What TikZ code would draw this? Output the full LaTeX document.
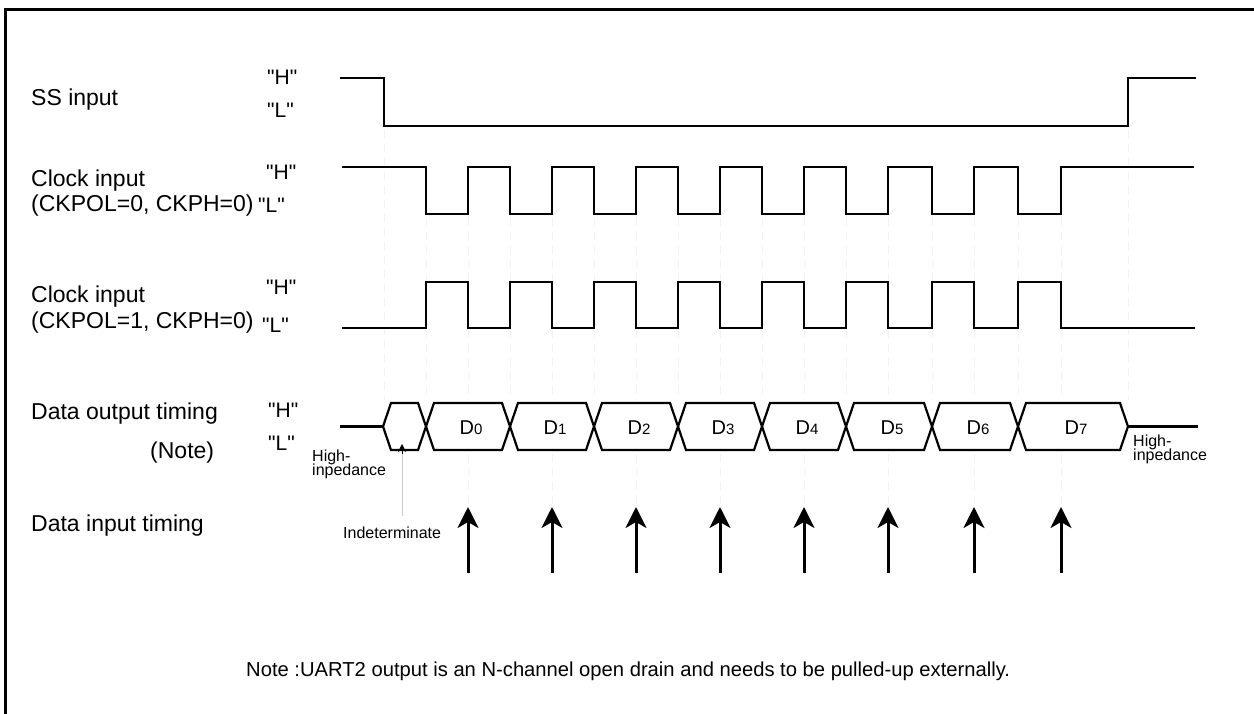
\documentclass[tikz,border=0pt]{standalone}
\usepackage{fontspec}
\setmainfont{Liberation Sans}
\usetikzlibrary{arrows.meta}
\newcommand{\qq}[1]{\textquotedbl #1\textquotedbl}
\begin{document}
\begin{tikzpicture}[x=1pt,y=-1pt,
  lbl/.style={font=\fontsize{23}{27}\selectfont, anchor=base west, inner sep=0pt},
  hl/.style={font=\fontsize{21}{25}\selectfont, anchor=base west, inner sep=0pt},
  small/.style={font=\fontsize{16}{18}\selectfont, anchor=base west, inner sep=0pt},
  dlbl/.style={anchor=base, inner sep=0pt},
  sig/.style={line width=2.2pt, line join=miter},
  guide/.style={black!5, dashed, dash pattern=on 8pt off 6pt, line width=0.8pt},
  samp/.style={line width=3pt, -{Stealth[length=21pt,width=21pt,inset=6pt]}},
  frame/.style={line width=3pt}]
\useasboundingbox (0,0) rectangle (1254,714);
% frame
\draw[frame] (5.5,714) -- (5.5,10) -- (1254,10);

% faint guide lines
\foreach \x in {384,1128} \draw[guide] (\x,130) -- (\x,400);
\foreach \x in {426,468,510,552,594,636,678,720,762,804,846,888,932,974,1018,1061}
  \draw[guide] (\x,218) -- (\x,400);
\foreach \x in {468,552,636,720,804,888,974,1061}
  \draw[guide] (\x,454) -- (\x,506);

% labels left
\node[lbl] (ss) at (31,106) {SS input};
\node[lbl] (ck1) at (31,187) {Clock input};
\node[lbl] (ck1b) at (31,212) {(CKPOL=0, CKPH=0)};
\node[lbl] (ck2) at (31,303) {Clock input};
\node[lbl] (ck2b) at (31,328) {(CKPOL=1, CKPH=0)};
\node[lbl] (dout) at (31,419) {Data output timing};
\node[lbl] (note) at (150,458) {(Note)};
\node[lbl] (din) at (31,531) {Data input timing};

% H/L labels
\node[hl] (ssH) at (267,85) {\qq{H}};
\node[hl] (ssL) at (267,118) {\qq{L}};
\node[hl] (c1H) at (266,180) {\qq{H}};
\node[hl] (c1L) at (258,213) {\qq{L}};
\node[hl] (c2H) at (266,295) {\qq{H}};
\node[hl] (c2L) at (262,332) {\qq{L}};
\node[hl] (dH) at (268,417) {\qq{H}};
\node[hl] (dL) at (268,450) {\qq{L}};

% SS input
\draw[sig] (340,78) -- (384,78) -- (384,126) -- (1128,126) -- (1128,78) -- (1196,78);

% clock 1 (CKPOL=0)
\draw[sig] (342,167) -- (426,167) -- (426,214) -- (468,214) -- (468,167)
  -- (510,167) -- (510,214) -- (552,214) -- (552,167)
  -- (594,167) -- (594,214) -- (636,214) -- (636,167)
  -- (678,167) -- (678,214) -- (720,214) -- (720,167)
  -- (762,167) -- (762,214) -- (804,214) -- (804,167)
  -- (846,167) -- (846,214) -- (888,214) -- (888,167)
  -- (932,167) -- (932,214) -- (974,214) -- (974,167)
  -- (1018,167) -- (1018,214) -- (1061,214) -- (1061,167) -- (1194,167);

% clock 2 (CKPOL=1)
\draw[sig] (342,328) -- (426,328) -- (426,282) -- (468,282) -- (468,328)
  -- (510,328) -- (510,282) -- (552,282) -- (552,328)
  -- (594,328) -- (594,282) -- (636,282) -- (636,328)
  -- (678,328) -- (678,282) -- (720,282) -- (720,328)
  -- (762,328) -- (762,282) -- (804,282) -- (804,328)
  -- (846,328) -- (846,282) -- (888,282) -- (888,328)
  -- (932,328) -- (932,282) -- (974,282) -- (974,328)
  -- (1018,328) -- (1018,282) -- (1061,282) -- (1061,328) -- (1195,328);

% data output
\draw[sig] (340,426.5) -- (383,426.5);
\draw[sig] (1128,426.5) -- (1198,426.5);
\foreach \l/\r in {383/426,426/510,510/594,594/678,678/762,762/846,846/932,932/1018,1018/1128}
  \draw[sig] (\l,426.5) -- (\l+8,403) -- (\r-8,403) -- (\r,426.5) -- (\r-8,450) -- (\l+8,450) -- cycle;

\foreach \l/\r/\i in {426/510/0,510/594/1,594/678/2,678/762/3,762/846/4,846/932/5,932/1018/6,1018/1128/7}
  \node[dlbl] (D\i) at ({(\l+\r)/2+3},434) {\fontsize{20}{24}\selectfont D\fontsize{15}{18}\selectfont\i};

% high impedance labels
\node[small] (hzl1) at (312,461) {High-};
\node[small] (hzl2) at (312,475) {inpedance};
\node[small] (hzr1) at (1133,446) {High-};
\node[small] (hzr2) at (1133,460) {inpedance};

% indeterminate
\coordinate (indA) at (402,516);
\coordinate (indB) at (402,444);
\draw[black!20, line width=0.7pt] (indA) -- (402,452);
\draw[line width=0.8pt, -{Stealth[length=8pt,width=8pt,inset=2.5pt]}] (402,454) -- (indB);
\node[small] (ind) at (343,538) {Indeterminate};

% sampling arrows
\foreach \x [count=\k] in {468,552,636,720,804,888,974,1061} {
  \coordinate (s\k) at (\x,573);
  \coordinate (t\k) at (\x,507);
  \draw[samp] (s\k) -- (t\k);
}

% note
\node[font=\fontsize{20.2}{24}\selectfont, anchor=base west, inner sep=0pt] (notetext) at (246,676)
  {Note :UART2 output is an N-channel open drain and needs to be pulled-up externally.};
\end{tikzpicture}
\end{document}
